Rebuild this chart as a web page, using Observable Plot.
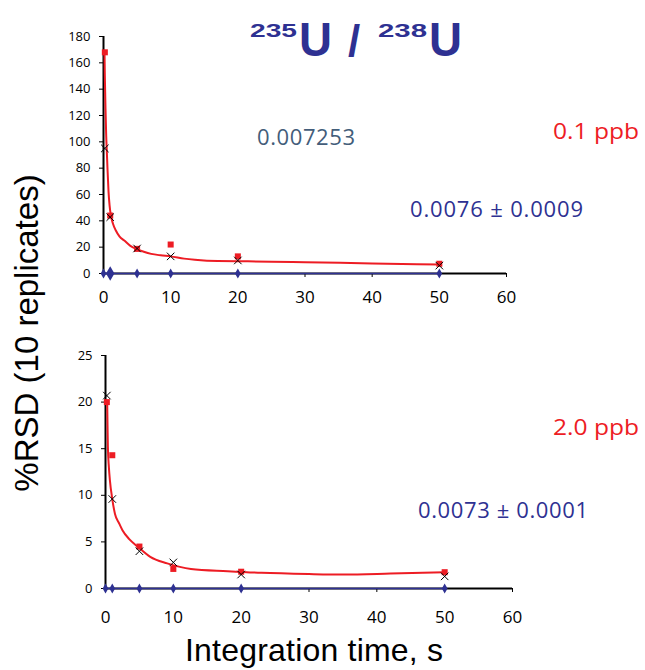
<!DOCTYPE html>
<html><head><meta charset="utf-8">
<script src="https://cdn.jsdelivr.net/npm/d3@7"></script>
<script src="https://cdn.jsdelivr.net/npm/@observablehq/plot@0.6"></script>
<style>
body{margin:0;background:#fff}
#wrap{position:relative;width:645px;height:670px;overflow:hidden;background:#fff}
#top,#bot{position:absolute;left:0}
#top{top:0}
#bot{top:330px}
#overlay{position:absolute;left:0;top:0;pointer-events:none}
</style></head><body>
<div id="wrap">
<div id="top"></div>
<div id="bot"></div>
<svg id="overlay" width="645" height="670">
  <g font-family="'Liberation Sans', Arial, sans-serif" font-weight="bold" fill="#2e3192">
    <text x="250" y="37" font-size="19" textLength="47" lengthAdjust="spacingAndGlyphs">235</text>
    <text x="299" y="56" font-size="48" textLength="33" lengthAdjust="spacingAndGlyphs">U</text>
    <text x="348" y="56" font-size="44">/</text>
    <text x="378" y="37" font-size="19" textLength="49" lengthAdjust="spacingAndGlyphs">238</text>
    <text x="429" y="56" font-size="48" textLength="33" lengthAdjust="spacingAndGlyphs">U</text>
  </g>
  <g font-family="'Open Sans', sans-serif" font-size="22">
    <text x="257" y="145" fill="#435d7a" textLength="98">0.007253</text>
    <text x="553" y="139" fill="#ed1c24" textLength="86" lengthAdjust="spacingAndGlyphs">0.1 ppb</text>
    <text x="410" y="217" fill="#2e3192" textLength="173">0.0076 ± 0.0009</text>
    <text x="553" y="435" fill="#ed1c24" textLength="86" lengthAdjust="spacingAndGlyphs">2.0 ppb</text>
    <text x="418" y="518" fill="#2e3192" textLength="170">0.0073 ± 0.0001</text>
  </g>
  <g font-family="'Liberation Sans', Arial, sans-serif" fill="#000">
    <text transform="translate(38,333) rotate(-90)" text-anchor="middle" font-size="33">%RSD (10 replicates)</text>
    <text x="314" y="661" text-anchor="middle" font-size="32" textLength="258">Integration time, s</text>
  </g>
</svg>
</div>
<script>
// Shared
const xTicks = [0, 10, 20, 30, 40, 50, 60];
const times = [0.2, 1, 5, 10, 20, 50];
const ratioTimes = [0, 1, 5, 10, 20, 50];

// Top panel: 0.1 ppb
const topYTicks = [0, 20, 40, 60, 80, 100, 120, 140, 160, 180];
const topSquares = [168, 44, 18.7, 22, 13, 7.4];
const topCrosses = [95, 42.8, 19, 13, 9.9, 6];
const topRatio = [0.0076, 0.0076, 0.0076, 0.0076, 0.0076, 0.0076];
const topFitX = [0.15, 0.2, 0.3, 0.4, 0.5, 0.6, 0.75, 0.9, 1.1, 1.4, 1.8, 2.4, 3.1, 4, 4.85, 6, 7.1, 8.5, 10, 12, 13.6, 17, 20, 25, 30, 40, 50];
const topFitY = [168, 150, 125, 105, 92, 79, 62, 52, 44, 38, 33, 28, 25, 21, 18.7, 16.5, 14.9, 13.8, 13, 11.3, 10.4, 9.4, 9.3, 9, 8.6, 7.6, 6.8];

// Bottom panel: 2.0 ppb
const botYTicks = [0, 5, 10, 15, 20, 25];
const botSquares = [20, 14.3, 4.5, 2.1, 1.8, 1.75];
const botCrosses = [20.7, 9.6, 4.0, 2.8, 1.5, 1.3];
const botRatio = [0.0073, 0.0073, 0.0073, 0.0073, 0.0073, 0.0073];
const botFitX = [0.25, 0.3, 0.35, 0.5, 0.65, 1.0, 1.4, 2.0, 2.5, 3.5, 4.8, 6.6, 9.1, 12.6, 18, 23, 30, 35, 42, 50];
const botFitY = [20, 17.5, 15.2, 13, 11.6, 9.6, 8, 7, 6.25, 5.3, 4.46, 3.4, 2.7, 2.1, 1.86, 1.68, 1.55, 1.5, 1.6, 1.75];

const RED = "#ed1c24", NAVY = "#2e3192";

function panel(o) {
  const pts = (ys) => times.map((x, i) => ({x, y: ys[i]}));
  const ratio = ratioTimes.map((x, i) => ({x, y: o.ratio[i]}));
  const fit = o.fitX.map((x, i) => ({x, y: o.fitY[i]}));
  return Plot.plot({
    width: 560,
    height: o.height,
    marginLeft: o.ml, marginRight: o.mr, marginTop: o.mt, marginBottom: o.mb,
    style: {fontFamily: "'Open Sans', sans-serif", color: "#000", background: "transparent", overflow: "visible"},
    x: {domain: [0, 60]},
    y: {domain: [0, o.yMax]},
    marks: [
      Plot.axisX({ticks: xTicks, tickSize: 4, tickPadding: o.xPad, fontSize: 17, label: null}),
      Plot.axisY({ticks: o.yTicks, tickSize: 4, tickPadding: 9, fontSize: 13, label: null}),
      Plot.ruleY([0], {stroke: "#000", strokeWidth: 2}),
      Plot.ruleX([0], {stroke: "#000", strokeWidth: 2}),
      Plot.line(ratio, {x: "x", y: "y", stroke: NAVY, strokeWidth: 1.5}),
      Plot.dot(ratio, {x: "x", y: "y", symbol: "diamond", fill: NAVY, r: (d) => (o.big && d.x === 1 ? 3.5 : 1.6)}),
      Plot.line(fit, {x: "x", y: "y", stroke: RED, strokeWidth: 2, curve: "monotone-x"}),
      Plot.dot(pts(o.squares), {x: "x", y: "y", symbol: "square", fill: RED, r: 3.4}),
      Plot.dot(pts(o.crosses), {x: "x", y: "y", symbol: "times", stroke: "#000", strokeWidth: 1, r: 3.5})
    ]
  });
}

document.getElementById("top").append(panel({
  height: 310, ml: 103, mr: 54, mt: 36, mb: 37, xPad: 13, yMax: 180, yTicks: topYTicks,
  squares: topSquares, crosses: topCrosses, ratio: topRatio, fitX: topFitX, fitY: topFitY, big: true
}));
document.getElementById("bot").append(panel({
  height: 300, ml: 105, mr: 48, mt: 25, mb: 42, xPad: 18, yMax: 25, yTicks: botYTicks,
  squares: botSquares, crosses: botCrosses, ratio: botRatio, fitX: botFitX, fitY: botFitY, big: false
}));
</script>
</body></html>
